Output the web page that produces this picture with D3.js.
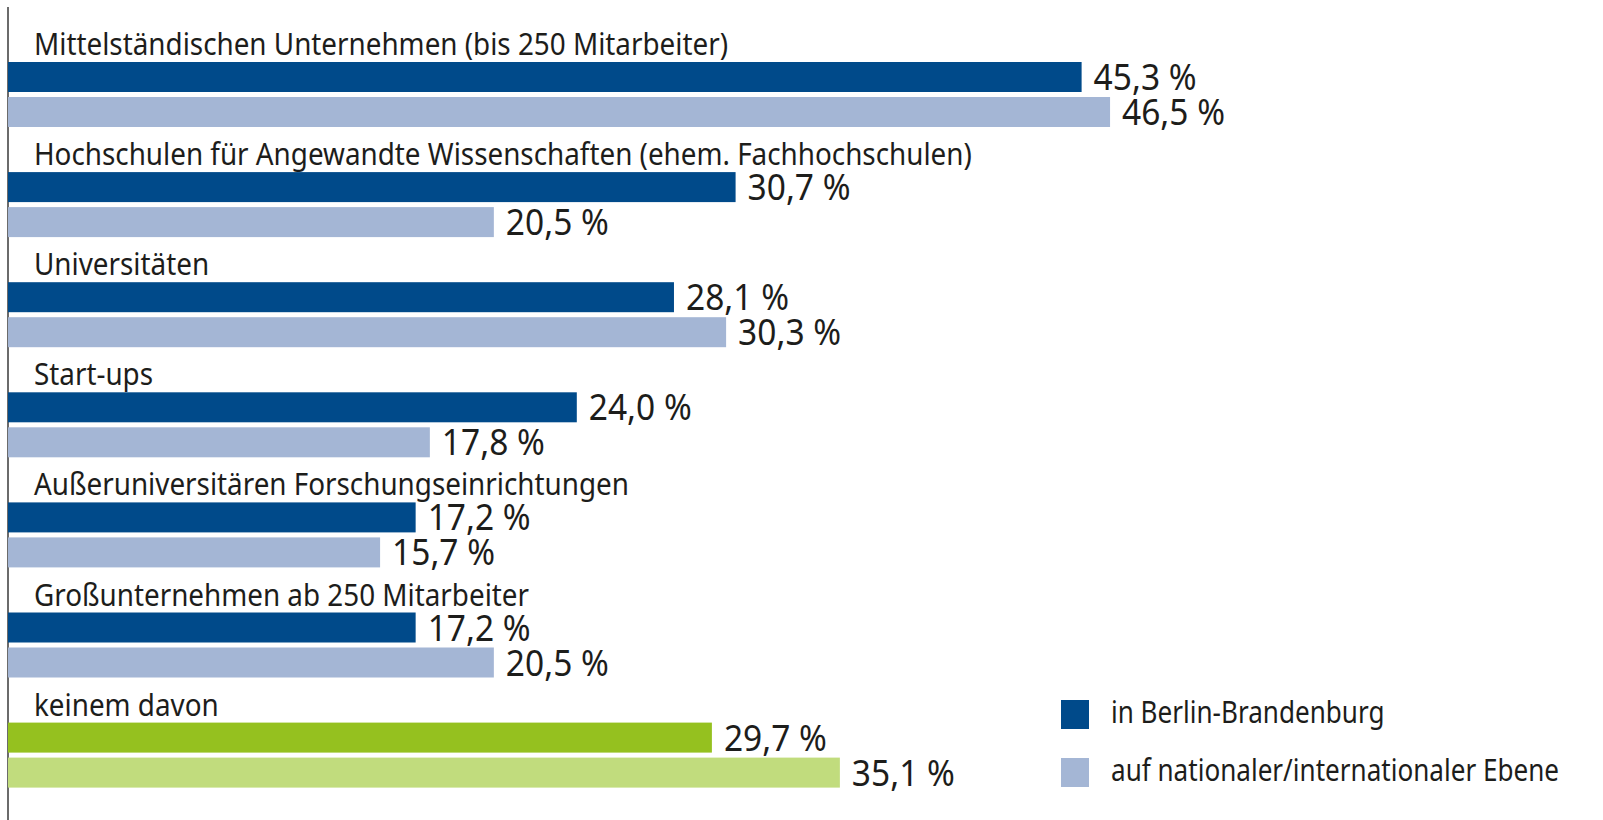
<!DOCTYPE html>
<html><head><meta charset="utf-8">
<script src="https://cdn.jsdelivr.net/npm/d3@7"></script>
<style>body{margin:0;background:#fff}svg{display:block}</style>
</head><body>
<svg id="c" width="1603" height="820"></svg>
<script>
const categories = [
  "Mittelständischen Unternehmen (bis 250 Mitarbeiter)",
  "Hochschulen für Angewandte Wissenschaften (ehem. Fachhochschulen)",
  "Universitäten",
  "Start-ups",
  "Außeruniversitären Forschungseinrichtungen",
  "Großunternehmen ab 250 Mitarbeiter",
  "keinem davon"
];
const berlinBrandenburg = [45.3, 30.7, 28.1, 24.0, 17.2, 17.2, 29.7];
const nationalInternational = [46.5, 20.5, 30.3, 17.8, 15.7, 20.5, 35.1];
const seriesNames = ["in Berlin-Brandenburg", "auf nationaler/internationaler Ebene"];

const colors = {
  dark: "#004a8a", light: "#a4b6d5",
  darkGreen: "#95c11f", lightGreen: "#c1dc7d"
};
const font = "'Noto Sans', 'Open Sans', sans-serif";
const textColor = "#1d1d1b";

const svg = d3.select("#c");
const x = d3.scaleLinear().domain([0, 50]).range([8, 8 + 50 * 23.7]);
const y = d3.scaleBand().domain(categories).range([62, 62 + 7 * 110.1]).padding(0);
const ys = d3.scaleBand().domain([0, 1]).range([0, 65]).paddingInner(5 / 35).paddingOuter(0);

const fmt = v => d3.format(".1f")(v).replace(".", ",") + " %";

function condense(sel, k) {
  sel.each(function () {
    const w = this.getComputedTextLength();
    d3.select(this).attr("textLength", w * k).attr("lengthAdjust", "spacingAndGlyphs");
  });
}

// axis line
svg.append("line").attr("x1", 8).attr("x2", 8).attr("y1", 7).attr("y2", 820)
  .attr("stroke", "#6b6b6b").attr("stroke-width", 2);

const data = categories.map((c, i) => ({
  cat: c, i, vals: [berlinBrandenburg[i], nationalInternational[i]]
}));

const g = svg.selectAll("g.grp").data(data).join("g").attr("class", "grp")
  .attr("transform", d => `translate(0,${y(d.cat)})`);

const catLabels = g.append("text")
  .attr("x", 34).attr("y", -7)
  .attr("font-family", font).attr("font-size", 30).attr("fill", textColor)
  .text(d => d.cat);

g.selectAll("rect").data(d => d.vals.map((v, j) => ({v, j, last: d.i === categories.length - 1})))
  .join("rect")
  .attr("x", x(0)).attr("y", d => ys(d.j))
  .attr("width", d => x(d.v) - x(0)).attr("height", ys.bandwidth())
  .attr("fill", d => d.last ? (d.j === 0 ? colors.darkGreen : colors.lightGreen) : (d.j === 0 ? colors.dark : colors.light));

const valLabels = g.selectAll("text.val").data(d => d.vals.map((v, j) => ({v, j})))
  .join("text").attr("class", "val")
  .attr("x", d => x(d.v) + 12).attr("y", d => ys(d.j) + ys.bandwidth() / 2 + 13)
  .attr("font-family", font).attr("font-size", 37).attr("fill", textColor)
  .text(d => fmt(d.v));

// legend
const lg = svg.append("g");
const legItems = lg.selectAll("g").data(seriesNames).join("g")
  .attr("transform", (d, i) => `translate(1061,${700 + i * 58})`);
legItems.append("rect").attr("width", 28).attr("height", 29)
  .attr("fill", (d, i) => i === 0 ? colors.dark : colors.light);
const legText = legItems.append("text").attr("x", 50).attr("y", 23)
  .attr("font-family", font).attr("font-size", 30).attr("fill", textColor)
  .text(d => d);

// condense fonts to match the narrow original typeface
const k1 = 694 / catLabels.node().getComputedTextLength();
condense(catLabels, k1);
const k3 = 448 / legText.nodes()[1].getComputedTextLength();
condense(legText, k3);
const k2 = 103 / valLabels.node().getComputedTextLength();
condense(valLabels, k2);
</script>
</body></html>
